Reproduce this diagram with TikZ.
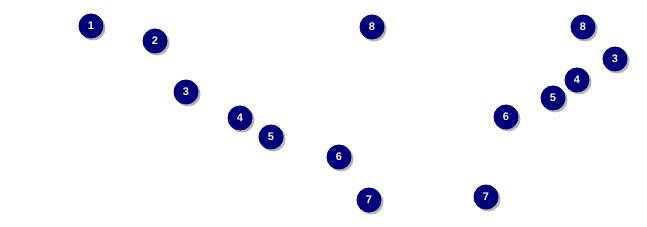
\documentclass[tikz,border=0pt]{standalone}
\usepackage{fontspec}
\setmainfont{Liberation Sans}
\usepackage{xcolor}
\usepackage{tikz}
\usetikzlibrary{shadows}
\definecolor{dotnavy}{HTML}{00007A}
\definecolor{dotshade}{HTML}{A0A0A0}

\begin{document}
\begin{tikzpicture}[x=1pt, y=-1pt, font=\bfseries\fontsize{11}{12}\selectfont,
        dot/.style={circle, fill=dotnavy, text=white, inner sep=0pt, minimum size=25pt,
          drop shadow={shadow xshift=2pt, shadow yshift=-2pt, fill=dotshade, opacity=0.8}}]
        \useasboundingbox (0,0) rectangle (647,227);
        % left group
        \node[dot] (l1) at (91,26) {1};
        \node[dot] (l2) at (155,41) {2};
        \node[dot] (l3) at (186,92) {3};
        \node[dot] (l4) at (240,118) {4};
        \node[dot] (l5) at (271,137) {5};
        \node[dot] (l6) at (339,157) {6};
        \node[dot] (l7) at (369,200) {7};
        \node[dot] (l8) at (372,27) {8};
        % right group
        \node[dot] (r7) at (486,197) {7};
        \node[dot] (r6) at (506,117) {6};
        \node[dot] (r5) at (553,98) {5};
        \node[dot] (r4) at (577,80) {4};
        \node[dot] (r3) at (615,59) {3};
        \node[dot] (r8) at (583,27) {8};
      \end{tikzpicture}
\end{document}
